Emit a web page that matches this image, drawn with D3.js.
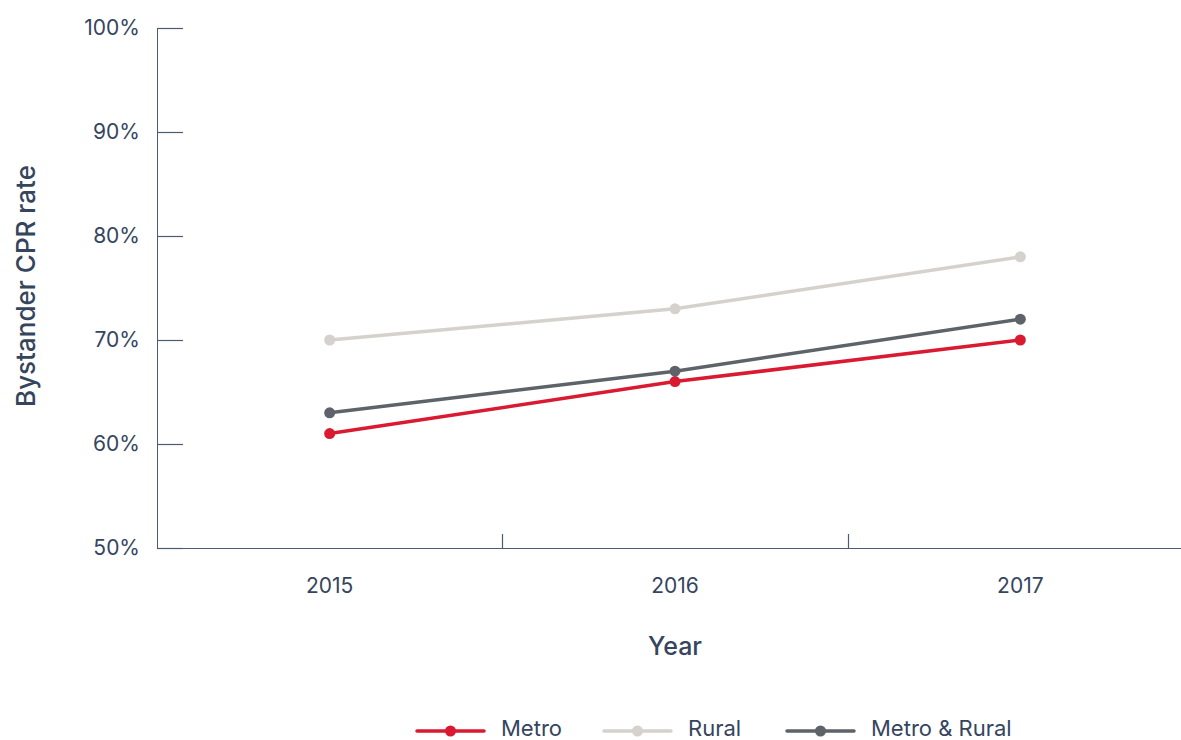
<!DOCTYPE html>
<html>
<head>
<meta charset="utf-8">
<script src="https://cdn.jsdelivr.net/npm/d3@7"></script>
<style>
  html, body { margin: 0; padding: 0; background: #fff; }
  svg { display: block; font-family: Inter, "Open Sans", sans-serif; }
</style>
</head>
<body>
<svg id="chart" width="1181" height="740"></svg>
<script>
// Bystander CPR rate by year
const years = ["2015", "2016", "2017"];
const metro = [61, 66, 70];
const rural = [70, 73, 78];
const metroRural = [63, 67, 72];
const yTicks = [50, 60, 70, 80, 90, 100];

const seriesNames = ["Metro", "Rural", "Metro & Rural"];
const seriesValues = [metro, rural, metroRural];
const seriesColors = ["#d91a31", "#d5d1cd", "#5e6269"];

const textColor = "#35455e";
const axisColor = "#4d5b70";

const svg = d3.select("#chart");

const x = d3.scaleBand().domain(years).range([157, 1193]).padding(0);
const y = d3.scaleLinear().domain([50, 100]).range([548, 28]);

// y axis
const yAxis = svg.append("g").attr("transform", "translate(157,0)")
  .call(d3.axisRight(y).tickValues(yTicks).tickSize(26).tickFormat(d => d + "%"));
yAxis.select(".domain").attr("stroke", axisColor).attr("d", `M0.5,${y(100)}V${y(50)}`);
yAxis.selectAll(".tick line").attr("stroke", axisColor).attr("stroke-width", 1.2);
yAxis.selectAll(".tick text")
  .attr("x", -17).attr("text-anchor", "end").attr("dy", "0.3em")
  .attr("fill", textColor).attr("font-size", 21).attr("font-family", "Inter, sans-serif");

// x axis: domain line along the bottom, ticks at band boundaries
const xg = svg.append("g").attr("transform", `translate(0,${y(50)})`);
xg.append("line").attr("x1", 157).attr("x2", 1181).attr("y1", 0.5).attr("y2", 0.5)
  .attr("stroke", axisColor).attr("stroke-width", 1.2);
xg.selectAll("line.sep").data(years.slice(1)).join("line").attr("class", "sep")
  .attr("x1", d => Math.round(x(d)) + 0.5).attr("x2", d => Math.round(x(d)) + 0.5)
  .attr("y1", 0).attr("y2", -14).attr("stroke", axisColor).attr("stroke-width", 1.2);
xg.selectAll("text").data(years).join("text")
  .attr("x", d => x(d) + x.bandwidth() / 2).attr("y", 45)
  .attr("text-anchor", "middle").attr("fill", textColor).attr("font-size", 21)
  .text(d => d);

// axis titles
svg.append("text").attr("x", x("2016") + x.bandwidth() / 2).attr("y", 655)
  .attr("text-anchor", "middle").attr("fill", textColor).attr("font-size", 25)
  .attr("font-weight", 500).text("Year");
svg.append("text").attr("transform", `translate(35,286) rotate(-90)`)
  .attr("text-anchor", "middle").attr("fill", textColor).attr("font-size", 26)
  .attr("font-weight", 500).text("Bystander CPR rate");

// lines and points
const line = d3.line().x((d, i) => x(years[i]) + x.bandwidth() / 2).y(d => y(d));
seriesValues.forEach((vals, s) => {
  const g = svg.append("g");
  g.append("path").attr("d", line(vals)).attr("fill", "none")
    .attr("stroke", seriesColors[s]).attr("stroke-width", 3.5);
  g.selectAll("circle").data(vals).join("circle")
    .attr("cx", (d, i) => x(years[i]) + x.bandwidth() / 2).attr("cy", d => y(d))
    .attr("r", 5.5).attr("fill", seriesColors[s]);
});

// legend
const legendX = [417, 604, 787];
const legend = svg.append("g").attr("transform", "translate(0,731)");
seriesNames.forEach((name, s) => {
  const g = legend.append("g").attr("transform", `translate(${legendX[s]},0)`);
  g.append("line").attr("x1", 0).attr("x2", 67).attr("stroke", seriesColors[s])
    .attr("stroke-width", 3.5).attr("stroke-linecap", "round");
  g.append("circle").attr("cx", 33.5).attr("r", 5.5).attr("fill", seriesColors[s]);
  g.append("text").attr("x", 84).attr("y", 5).attr("fill", textColor)
    .attr("font-size", 22).text(name);
});
</script>
</body>
</html>
